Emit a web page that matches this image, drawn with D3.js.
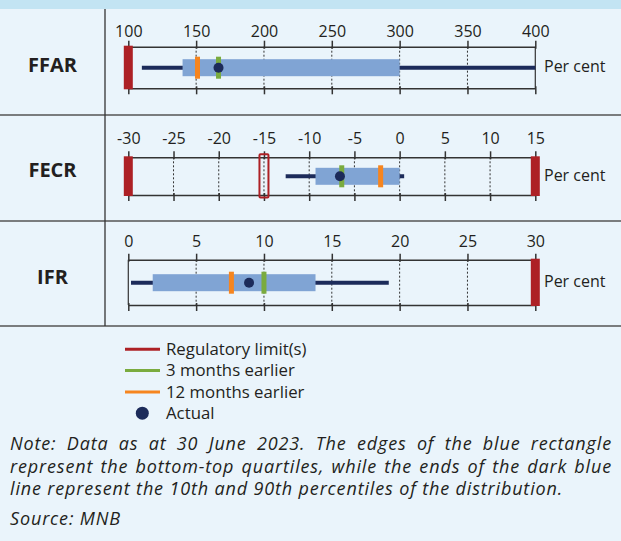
<!DOCTYPE html>
<html>
<head>
<meta charset="utf-8">
<script src="https://cdn.jsdelivr.net/npm/d3@7"></script>
<style>
  body { margin: 0; background: #eaf4fb; }
  svg text { font-family: "Open Sans", sans-serif; fill: #231f20; }
</style>
</head>
<body>
<svg id="chart" width="621" height="541"></svg>
<script>
/* distribution of liquidity ratios */
const panels = ["FFAR", "FECR", "IFR"];
const domains = [[100, 400], [-30, 15], [0, 30]];
const tickValues = [
    [100, 150, 200, 250, 300, 350, 400],
    [-30, -25, -20, -15, -10, -5, 0, 5, 10, 15],
    [0, 5, 10, 15, 20, 25, 30]
];
const p10 = [110, -12.6, 0.2];
const p90 = [400, 0.5, 19.2];
const q1 = [140, -9.3, 1.8];
const q3 = [300, 0, 13.8];
const actual = [166.5, -6.6, 8.9];
const earlier3m = [166.5, -6.4, 10];
const earlier12m = [151, -2.1, 7.6];
const limitsSolid = [[100], [-30, 15], [30]];
const limitsOutline = [[], [-15], []];
const legendLabels = ["Regulatory limit(s)", "3 months earlier", "12 months earlier", "Actual"];
const noteLines = [
    "Note: Data as at 30 June 2023. The edges of the blue rectangle",
    "represent the bottom-top quartiles, while the ends of the dark blue",
    "line represent the 10th and 90th percentiles of the distribution."
];
const sourceText = "Source: MNB";

const colors = {
    red: "#ad2025",
    green: "#7aab3e",
    orange: "#f6851f",
    dark: "#1c2b5a",
    box: "#80a4d4",
    axis: "#333333"
};

// panel layout (label row, box top/bottom, marks centre)
const layout = [
    { labelY: 31, top: 46.7, bottom: 88.3, mid: 67.7, nameY: 64.5 },
    { labelY: 138.5, top: 157.3, bottom: 195, mid: 176.3, nameY: 170 },
    { labelY: 241, top: 259.7, bottom: 305, mid: 282.7, nameY: 276.7 }
];
const plotLeft = 128.3;
const plotRight = 535.3;

const svg = d3.select("svg#chart");

svg.append("rect").attr("width", 621).attr("height", 541).attr("fill", "#eaf4fb");
svg.append("rect").attr("width", 621).attr("height", 9).attr("fill", "#c3e4f3");

// table lines
[115, 221, 326].forEach((y) => {
    svg.append("line")
        .attr("x1", 0).attr("x2", 621)
        .attr("y1", y).attr("y2", y)
        .attr("stroke", "#555").attr("stroke-width", 1.3);
});
svg.append("line")
    .attr("x1", 105).attr("x2", 105)
    .attr("y1", 9).attr("y2", 326)
    .attr("stroke", "#333").attr("stroke-width", 1.3);

panels.forEach((name, i) => {
    const L = layout[i];
    const x = d3.scaleLinear().domain(domains[i]).range([plotLeft, plotRight]);
    const g = svg.append("g");

    // row name
    g.append("text")
        .text(name)
        .attr("x", 52.5)
        .attr("y", L.nameY)
        .attr("dy", "0.35em")
        .attr("text-anchor", "middle")
        .style("font-size", "20px")
        .style("font-weight", "bold");

    // dotted gridlines
    g.selectAll("line.grid")
        .data(tickValues[i].slice(1, -1))
        .join("line")
        .attr("class", "grid")
        .attr("x1", (d) => x(d)).attr("x2", (d) => x(d))
        .attr("y1", L.top).attr("y2", L.bottom)
        .attr("stroke", colors.axis)
        .attr("stroke-width", 1)
        .attr("stroke-dasharray", "2,2");
    // frame ends
    [plotLeft, plotRight].forEach((px) => {
        g.append("line")
            .attr("x1", px).attr("x2", px)
            .attr("y1", L.top).attr("y2", L.bottom)
            .attr("stroke", colors.axis).attr("stroke-width", 1.2);
    });

    // top axis with labels
    const topAxis = g.append("g")
        .attr("transform", `translate(0, ${L.top})`)
        .call(d3.axisTop(x).tickValues(tickValues[i]).tickSizeInner(6).tickSizeOuter(0)
            .tickFormat((d) => String(d)));
    topAxis.selectAll("text")
        .attr("y", L.labelY - L.top)
        .attr("dy", "0.35em")
        .style("font-size", "16px")
        .style("font-family", "'Open Sans', sans-serif")
        .attr("fill", "#231f20");
    topAxis.selectAll(".tick line").attr("y2", -6).attr("y1", 2);

    // bottom axis without labels
    const bottomAxis = g.append("g")
        .attr("transform", `translate(0, ${L.bottom})`)
        .call(d3.axisBottom(x).tickValues(tickValues[i]).tickSizeInner(6).tickSizeOuter(0).tickFormat(""));
    bottomAxis.selectAll(".tick line").attr("y1", -2).attr("y2", 6);
    g.selectAll(".domain, .tick line")
        .attr("stroke", colors.axis)
        .attr("stroke-width", 1.5);

    // 10th-90th percentile line
    g.append("line")
        .attr("x1", x(p10[i])).attr("x2", x(p90[i]))
        .attr("y1", L.mid).attr("y2", L.mid)
        .attr("stroke", colors.dark)
        .attr("stroke-width", 4);

    // quartile box
    g.append("rect")
        .attr("x", x(q1[i]))
        .attr("width", x(q3[i]) - x(q1[i]))
        .attr("y", L.mid - 8.5)
        .attr("height", 17)
        .attr("fill", colors.box);

    // earlier values
    [[earlier12m, colors.orange], [earlier3m, colors.green]].forEach(([vals, c]) => {
        g.append("rect")
            .attr("x", x(vals[i]) - 2.5)
            .attr("width", 5)
            .attr("y", L.mid - 11)
            .attr("height", 22)
            .attr("fill", c);
    });

    // actual
    g.append("circle")
        .attr("cx", x(actual[i]))
        .attr("cy", L.mid)
        .attr("r", 5)
        .attr("fill", colors.dark);

    // regulatory limits
    g.selectAll("rect.limit")
        .data(limitsSolid[i])
        .join("rect")
        .attr("class", "limit")
        .attr("x", (d) => x(d) - 4.5)
        .attr("width", 9)
        .attr("y", L.top - 1)
        .attr("height", L.bottom - L.top + 2)
        .attr("fill", colors.red);
    g.selectAll("rect.limit-outline")
        .data(limitsOutline[i])
        .join("rect")
        .attr("class", "limit-outline")
        .attr("x", (d) => x(d) - 4.5)
        .attr("width", 9)
        .attr("y", L.top - 3)
        .attr("height", L.bottom - L.top + 5.5)
        .attr("rx", 1)
        .attr("fill", "none")
        .attr("stroke", colors.red)
        .attr("stroke-width", 2);

    g.append("text")
        .text("Per cent")
        .attr("x", 544)
        .attr("y", L.mid - 1)
        .attr("dy", "0.35em")
        .style("font-size", "16px");
});

// legend
const legend = svg.append("g");
const legendColors = [colors.red, colors.green, colors.orange];
legendLabels.forEach((label, i) => {
    const y = 349.3 + i * 21.3;
    if (i < 3) {
        legend.append("line")
            .attr("x1", 125).attr("x2", 160)
            .attr("y1", y).attr("y2", y)
            .attr("stroke", legendColors[i])
            .attr("stroke-width", 3);
    } else {
        legend.append("circle")
            .attr("cx", 142.3).attr("cy", y)
            .attr("r", 6.5)
            .attr("fill", colors.dark);
    }
    legend.append("text")
        .text(label)
        .attr("x", 166)
        .attr("y", y)
        .attr("dy", "0.35em")
        .style("font-size", "16.8px");
});

// note, justified like the original
const noteLeft = 10;
const noteRight = 612;
const noteStyle = (t) => t
    .style("font-size", "18px")
    .style("font-style", "italic")
    .style("letter-spacing", "0.85px");
noteLines.forEach((line, i) => {
    const y = 450 + i * 22.7;
    if (i === noteLines.length - 1) {
        noteStyle(svg.append("text").text(line).attr("x", noteLeft).attr("y", y));
        return;
    }
    const words = line.split(" ");
    const tmp = words.map((w) => noteStyle(svg.append("text").text(w).attr("y", y)));
    const widths = tmp.map((t) => t.node().getComputedTextLength());
    const gap = (noteRight - noteLeft - d3.sum(widths)) / (words.length - 1);
    let cx = noteLeft;
    tmp.forEach((t, k) => {
        t.attr("x", cx);
        cx += widths[k] + gap;
    });
});
noteStyle(svg.append("text").text(sourceText).attr("x", noteLeft).attr("y", 525));
</script>
</body>
</html>
